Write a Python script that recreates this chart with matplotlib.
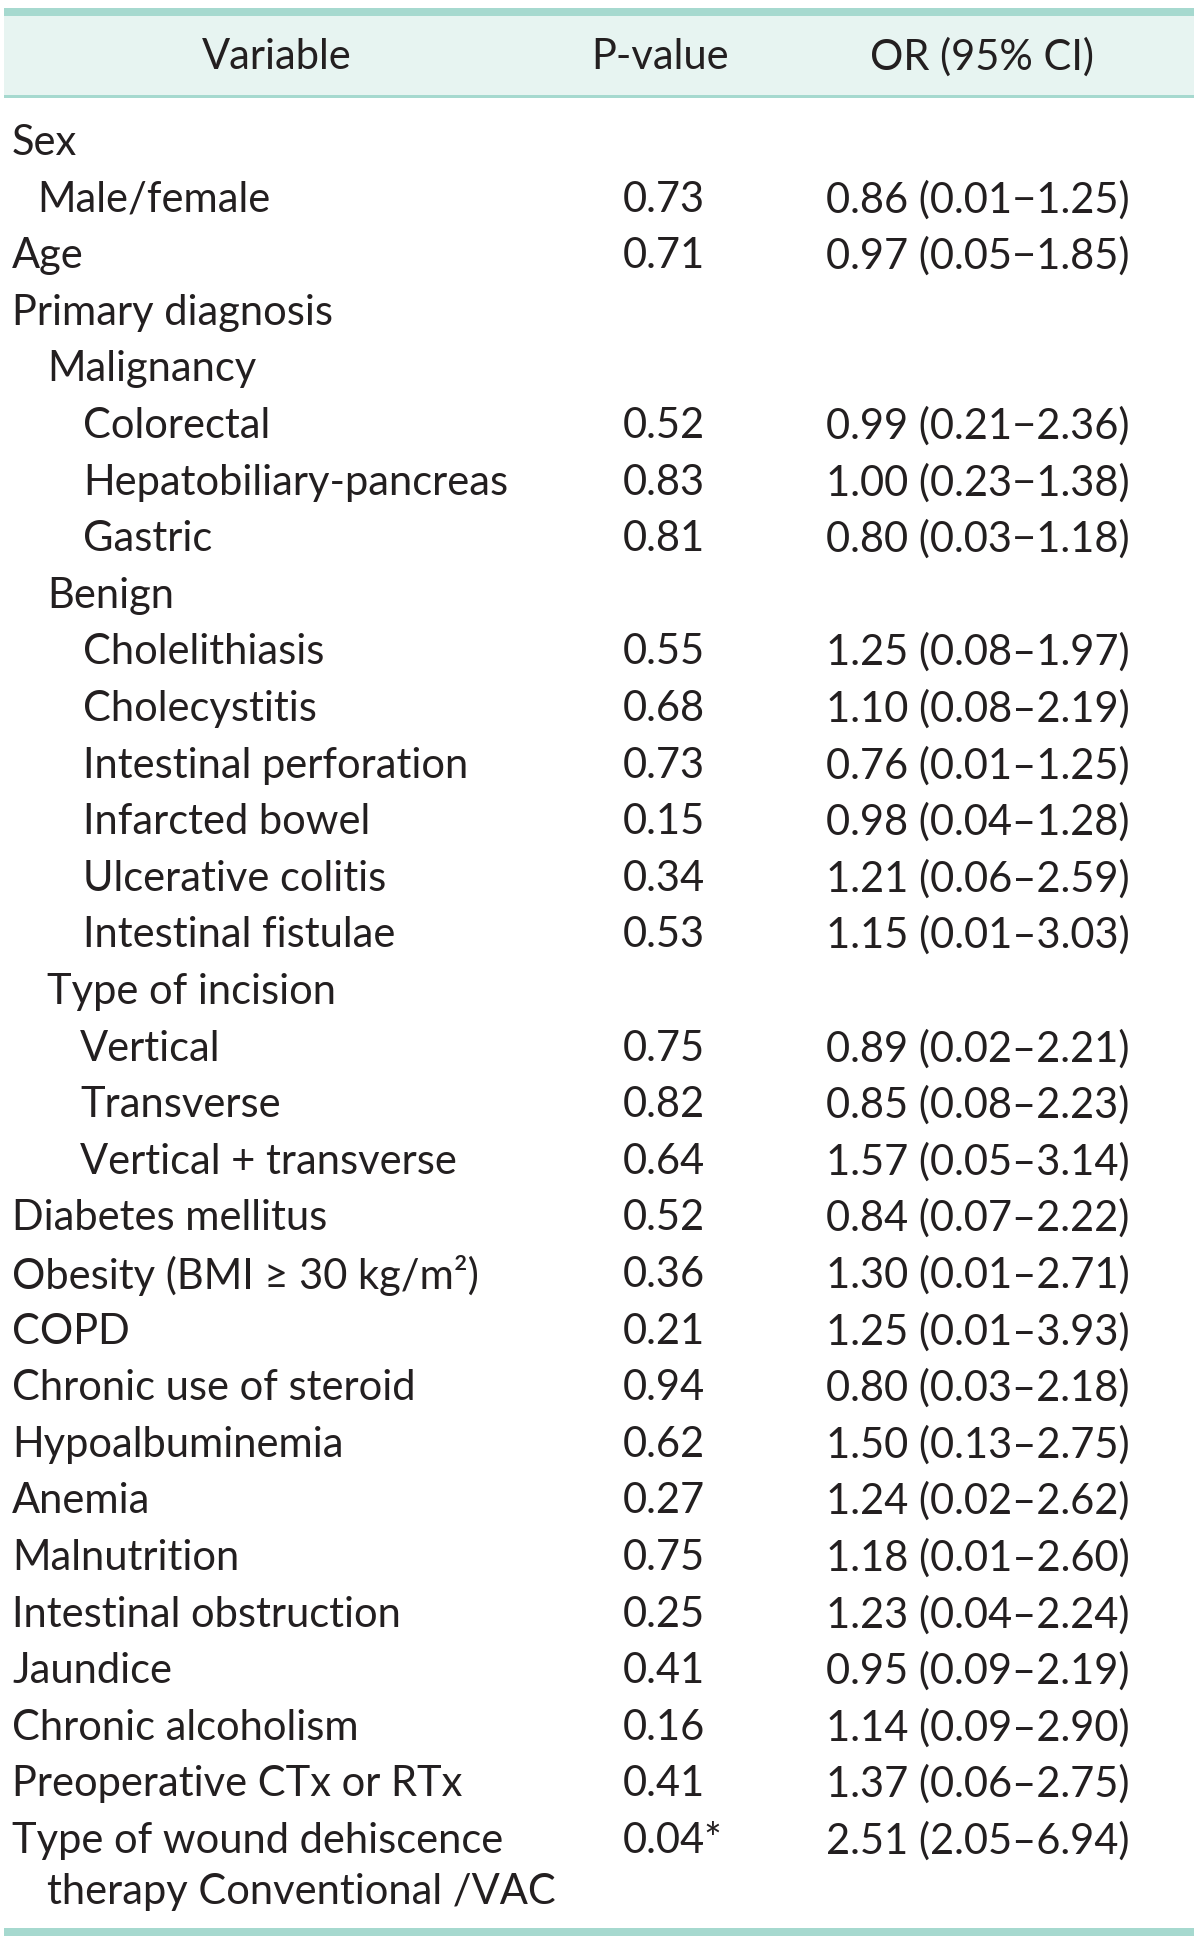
import matplotlib.pyplot as plt
from matplotlib.patches import Rectangle

plt.rcParams['font.family'] = ['Lato', 'DejaVu Sans']

headers = ["Variable", "P-value", "OR (95% CI)"]

# (label, indent level)
variables = [
    ("Sex", 0), ("Male/female", 1), ("Age", 0), ("Primary diagnosis", 0),
    ("Malignancy", 2), ("Colorectal", 3), ("Hepatobiliary-pancreas", 3), ("Gastric", 3),
    ("Benign", 2), ("Cholelithiasis", 3), ("Cholecystitis", 3),
    ("Intestinal perforation", 3), ("Infarcted bowel", 3), ("Ulcerative colitis", 3),
    ("Intestinal fistulae", 3), ("Type of incision", 2), ("Vertical", 4),
    ("Transverse", 4), ("Vertical + transverse", 4), ("Diabetes mellitus", 0),
    ("Obesity (BMI \u2265 30 kg/m\u00b2)", 0), ("COPD", 0), ("Chronic use of steroid", 0),
    ("Hypoalbuminemia", 0), ("Anemia", 0), ("Malnutrition", 0),
    ("Intestinal obstruction", 0), ("Jaundice", 0), ("Chronic alcoholism", 0),
    ("Preoperative CTx or RTx", 0), ("Type of wound dehiscence", 0),
]
extra_line = "therapy Conventional /VAC"

pvalues = ["", "0.73", "0.71", "", "", "0.52", "0.83", "0.81", "", "0.55", "0.68",
           "0.73", "0.15", "0.34", "0.53", "", "0.75", "0.82", "0.64", "0.52",
           "0.36", "0.21", "0.94", "0.62", "0.27", "0.75", "0.25", "0.41", "0.16",
           "0.41", "0.04*"]

ors = ["", "0.86 (0.01\u22121.25)", "0.97 (0.05\u22121.85)", "", "",
       "0.99 (0.21\u22122.36)", "1.00 (0.23\u22121.38)", "0.80 (0.03\u22121.18)", "",
       "1.25 (0.08\u20131.97)", "1.10 (0.08\u20132.19)", "0.76 (0.01\u20131.25)",
       "0.98 (0.04\u20131.28)", "1.21 (0.06\u20132.59)", "1.15 (0.01\u20133.03)", "",
       "0.89 (0.02\u20132.21)", "0.85 (0.08\u20132.23)", "1.57 (0.05\u20133.14)",
       "0.84 (0.07\u20132.22)", "1.30 (0.01\u20132.71)", "1.25 (0.01\u20133.93)",
       "0.80 (0.03\u20132.18)", "1.50 (0.13\u20132.75)", "1.24 (0.02\u20132.62)",
       "1.18 (0.01\u20132.60)", "1.23 (0.04\u20132.24)", "0.95 (0.09\u20132.19)",
       "1.14 (0.09\u20132.90)", "1.37 (0.06\u20132.75)", "2.51 (2.05\u20136.94)"]

W, H = 1200, 1941
fig = plt.figure(figsize=(W / 100, H / 100), dpi=100)
ax = fig.add_axes([0, 0, 1, 1])
ax.set_xlim(0, W)
ax.set_ylim(H, 0)
ax.axis('off')

teal = '#a6d9cf'
txt = '#231f20'
fs = 30

# header band
ax.add_patch(Rectangle((4, 16), 1190, 80, color='#e7f4f1', lw=0))
ax.add_patch(Rectangle((4, 8), 1190, 8, color=teal, lw=0))
ax.add_patch(Rectangle((4, 95), 1190, 2.5, color=teal, lw=0))
ax.add_patch(Rectangle((4, 1928), 1190, 8, color=teal, lw=0))

hx = [277, 660, 982]
for x, h in zip(hx, headers):
    ax.text(x, 57, h, ha='center', va='center', fontsize=fs, color=txt)

indents = [12, 37, 47, 83, 80]
y0, dy = 143, 56.6
x_p, x_or = 623, 826
for i, (lab, lev) in enumerate(variables):
    y = y0 + i * dy
    ax.text(indents[lev], y, lab, ha='left', va='center', fontsize=fs, color=txt)
    if pvalues[i]:
        ax.text(x_p, y, pvalues[i], ha='left', va='center', fontsize=fs, color=txt)
    if ors[i]:
        ax.text(x_or, y, ors[i], ha='left', va='center', fontsize=fs, color=txt)
ax.text(47, y0 + (len(variables) - 1) * dy + 51, extra_line, ha='left', va='center',
        fontsize=fs, color=txt)

fig.savefig("out.png", dpi=100)
